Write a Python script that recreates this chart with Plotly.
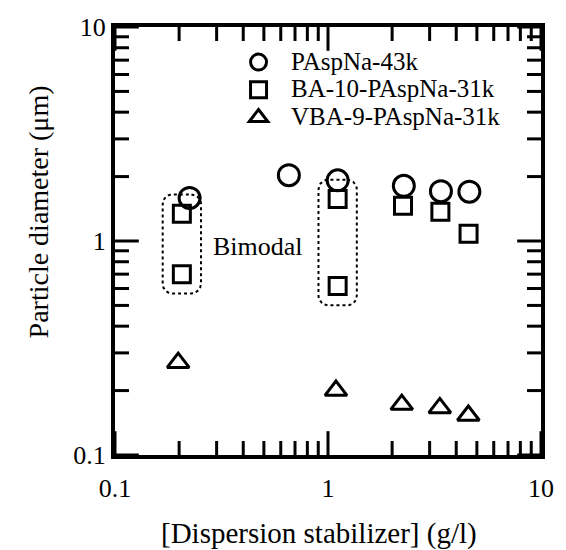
import numpy as np
import plotly.graph_objects as go

# ---- data ----
pasp_x = [0.224, 0.655, 1.11, 2.27, 3.39, 4.61]
pasp_y = [1.59, 2.03, 1.92, 1.81, 1.71, 1.70]

ba_x = [0.206, 0.206, 1.11, 1.11, 2.25, 3.37, 4.57]
ba_y = [1.34, 0.70, 1.57, 0.616, 1.46, 1.37, 1.08]

vba_x = [0.198, 1.09, 2.22, 3.35, 4.56]
vba_y = [0.27, 0.20, 0.172, 0.166, 0.153]

series_names = ["PAspNa-43k", "BA-10-PAspNa-31k", "VBA-9-PAspNa-31k"]

bimodal_groups = [(0, 1), (2, 3)]  # indices into ba_x / ba_y
bimodal_label = "Bimodal"

major_ticks = [0.1, 1, 10]
major_ticktext = ["0.1", "1", "10"]
minor_ticks = [0.2, 0.3, 0.4, 0.5, 0.6, 0.7, 0.8, 0.9, 2, 3, 4, 5, 6, 7, 8, 9]

x_title = "[Dispersion stabilizer] (g/l)"
y_title = "Particle diameter (μm)"

FONT = "Liberation Serif"
LOG_RANGE = [-1, 1]


def rounded_box(xs, ys, pad=0.09, r=0.045, n=8):
    lx = np.log10(xs)
    ly = np.log10(ys)
    x0, x1 = lx.min() - pad, lx.max() + pad
    y0, y1 = ly.min() - pad, ly.max() + pad
    px, py = [], []
    corners = [
        (x1 - r, y1 - r, 90, 0),
        (x1 - r, y0 + r, 0, -90),
        (x0 + r, y0 + r, -90, -180),
        (x0 + r, y1 - r, 180, 90),
    ]
    for cx, cy, a0, a1 in corners:
        for a in np.linspace(np.radians(a0), np.radians(a1), n):
            px.append(cx + r * np.cos(a))
            py.append(cy + r * np.sin(a))
    px.append(px[0])
    py.append(py[0])
    return list(10 ** np.array(px)), list(10 ** np.array(py))


W, H = 566, 550
l, r, t, b = 115, 17, 27, 95
pw, ph = W - l - r, H - t - b
lo, hi = 10 ** LOG_RANGE[0], 10 ** LOG_RANGE[1]

fig = go.Figure()

# tick marks: line markers centred on the frame; the outer half is clipped away
MAJOR_LEN, MINOR_LEN, TICK_W = 17, 10, 3
for vals, length in ((major_ticks, MAJOR_LEN), (minor_ticks, MINOR_LEN)):
    n = len(vals)
    # bottom + top ticks (vertical strokes)
    fig.add_trace(go.Scatter(
        x=list(vals) * 2, y=[lo] * n + [hi] * n, mode="markers",
        showlegend=False, hoverinfo="skip", cliponaxis=True,
        marker=dict(symbol="line-ns-open", size=2 * length,
                    line=dict(color="black", width=TICK_W), color="black"),
    ))
    # left + right ticks (horizontal strokes)
    fig.add_trace(go.Scatter(
        x=[lo] * n + [hi] * n, y=list(vals) * 2, mode="markers",
        showlegend=False, hoverinfo="skip", cliponaxis=True,
        marker=dict(symbol="line-ew-open", size=2 * length,
                    line=dict(color="black", width=TICK_W), color="black"),
    ))

legend_span = "<span style='font-size:25px'>&nbsp;&nbsp;{}</span>"

fig.add_trace(go.Scatter(
    x=pasp_x, y=pasp_y, mode="markers", name=legend_span.format(series_names[0]),
    marker=dict(symbol="circle-open", size=21, color="black", line=dict(width=3, color="black")),
))
fig.add_trace(go.Scatter(
    x=ba_x, y=ba_y, mode="markers", name=legend_span.format(series_names[1]),
    marker=dict(symbol="square-open", size=17, color="black", line=dict(width=3, color="black")),
))
fig.add_trace(go.Scatter(
    x=vba_x, y=vba_y, mode="markers", name=legend_span.format(series_names[2]),
    marker=dict(symbol="triangle-up-open", size=19, color="black", line=dict(width=3, color="black")),
))

for i, j in bimodal_groups:
    bx, by = rounded_box(np.array([ba_x[i], ba_x[j]]), np.array([ba_y[i], ba_y[j]]))
    fig.add_trace(go.Scatter(
        x=bx, y=by, mode="lines", showlegend=False, hoverinfo="skip",
        line=dict(color="black", width=2, dash="dot"),
    ))

axis_common = dict(
    type="log", range=LOG_RANGE, showgrid=False, zeroline=False,
    tickmode="array", tickvals=major_ticks, ticktext=major_ticktext,
    ticks="", showline=True, linewidth=4, linecolor="black", mirror=True,
    tickfont=dict(family=FONT, size=26, color="black"),
)

fig.update_layout(
    width=W, height=H,
    margin=dict(l=l, r=r, t=t, b=b),
    paper_bgcolor="white", plot_bgcolor="white",
    font=dict(family=FONT, color="black"),
    xaxis=dict(axis_common, ticklabelstandoff=7),
    yaxis=dict(axis_common),
    legend=dict(
        x=0.29, y=0.962, xanchor="left", yanchor="top",
        bgcolor="rgba(0,0,0,0)", font=dict(family=FONT, size=19, color="black"),
    ),
    showlegend=True,
    annotations=[
        dict(text=bimodal_label, x=np.log10(0.47), y=np.log10(0.94), xref="x", yref="y",
             showarrow=False, font=dict(family=FONT, size=26, color="black")),
        dict(text=x_title, x=(323 - l) / pw, y=(H - b - 533) / ph, xref="paper", yref="paper",
             xanchor="center", yanchor="middle", showarrow=False,
             font=dict(family=FONT, size=29, color="black")),
        dict(text=y_title, x=(38 - l) / pw, y=(H - b - 212) / ph, xref="paper", yref="paper",
             xanchor="center", yanchor="middle", textangle=-90, showarrow=False,
             font=dict(family=FONT, size=28, color="black")),
    ],
)

fig.write_html("out.html")
